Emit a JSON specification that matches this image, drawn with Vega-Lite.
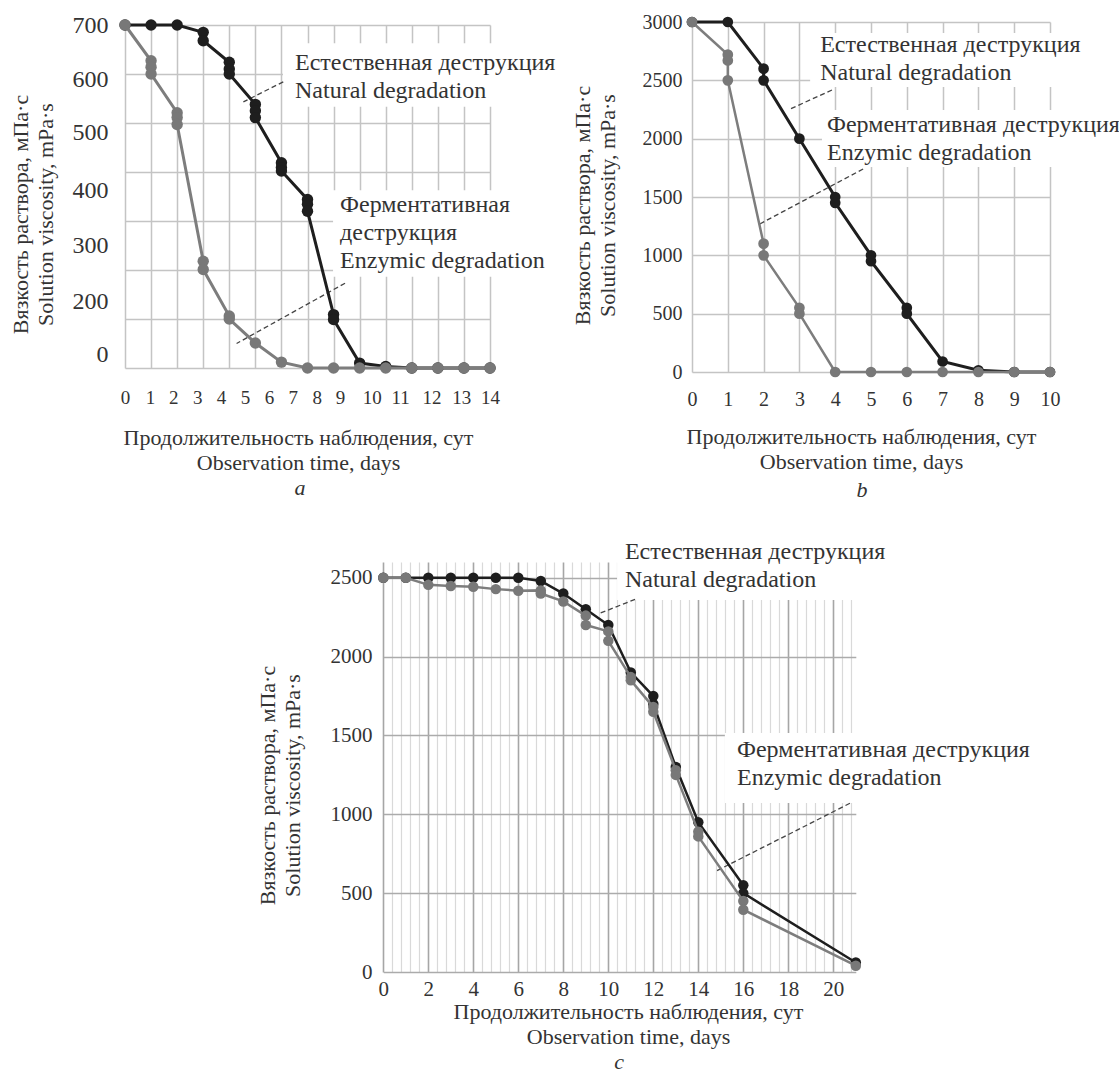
{
  "$schema": "https://vega.github.io/schema/vega-lite/v6.json",
  "width": 1119,
  "height": 1083,
  "autosize": {"type": "none"},
  "padding": 0,
  "background": "white",
  "config": {
    "font": "Liberation Serif",
    "view": {"stroke": null},
    "axis": {
      "ticks": false,
      "domain": false,
      "labelFont": "Liberation Serif",
      "titleFont": "Liberation Serif",
      "labelFontSize": 19,
      "titleFontSize": 22,
      "titleFontWeight": "normal",
      "labelColor": "#333333",
      "titleColor": "#333333",
      "gridColor": "#c4c4c4",
      "gridWidth": 1.5,
      "labelOverlap": false,
      "labelFlush": false,
      "titleLineHeight": 25,
      "format": "d"
    },
    "axisY": {"titleAngle": -90, "titleBaseline": "top", "titleAlign": "center"},
    "axisX": {"titleBaseline": "top", "titleAlign": "center"}
  },
  "datasets": {
    "a": [
      {"s": "n", "d": 0, "v": 700}, {"s": "n", "d": 1, "v": 700}, {"s": "n", "d": 2, "v": 700},
      {"s": "n", "d": 3, "v": 685}, {"s": "n", "d": 3, "v": 668},
      {"s": "n", "d": 4, "v": 624}, {"s": "n", "d": 4, "v": 610}, {"s": "n", "d": 4, "v": 600},
      {"s": "n", "d": 5, "v": 538}, {"s": "n", "d": 5, "v": 525}, {"s": "n", "d": 5, "v": 511},
      {"s": "n", "d": 6, "v": 419}, {"s": "n", "d": 6, "v": 409}, {"s": "n", "d": 6, "v": 402},
      {"s": "n", "d": 7, "v": 344}, {"s": "n", "d": 7, "v": 334}, {"s": "n", "d": 7, "v": 320},
      {"s": "n", "d": 8, "v": 109}, {"s": "n", "d": 8, "v": 99},
      {"s": "n", "d": 9, "v": 10}, {"s": "n", "d": 10, "v": 3},
      {"s": "n", "d": 11, "v": 0}, {"s": "n", "d": 12, "v": 0}, {"s": "n", "d": 13, "v": 0}, {"s": "n", "d": 14, "v": 0},
      {"s": "e", "d": 0, "v": 700},
      {"s": "e", "d": 1, "v": 627}, {"s": "e", "d": 1, "v": 614}, {"s": "e", "d": 1, "v": 600},
      {"s": "e", "d": 2, "v": 521}, {"s": "e", "d": 2, "v": 511}, {"s": "e", "d": 2, "v": 497},
      {"s": "e", "d": 3, "v": 218}, {"s": "e", "d": 3, "v": 201},
      {"s": "e", "d": 4, "v": 106}, {"s": "e", "d": 4, "v": 100},
      {"s": "e", "d": 5, "v": 51}, {"s": "e", "d": 6, "v": 12},
      {"s": "e", "d": 7, "v": 0}, {"s": "e", "d": 8, "v": 0}, {"s": "e", "d": 9, "v": 0}, {"s": "e", "d": 10, "v": 0},
      {"s": "e", "d": 11, "v": 0}, {"s": "e", "d": 12, "v": 0}, {"s": "e", "d": 13, "v": 0}, {"s": "e", "d": 14, "v": 0}
    ],
    "b": [
      {"s": "n", "d": 0, "v": 3000}, {"s": "n", "d": 1, "v": 3000},
      {"s": "n", "d": 2, "v": 2600}, {"s": "n", "d": 2, "v": 2500},
      {"s": "n", "d": 3, "v": 2000},
      {"s": "n", "d": 4, "v": 1500}, {"s": "n", "d": 4, "v": 1450},
      {"s": "n", "d": 5, "v": 1000}, {"s": "n", "d": 5, "v": 950},
      {"s": "n", "d": 6, "v": 550}, {"s": "n", "d": 6, "v": 500},
      {"s": "n", "d": 7, "v": 90}, {"s": "n", "d": 8, "v": 15}, {"s": "n", "d": 9, "v": 0}, {"s": "n", "d": 10, "v": 0},
      {"s": "e", "d": 0, "v": 3000},
      {"s": "e", "d": 1, "v": 2720}, {"s": "e", "d": 1, "v": 2670}, {"s": "e", "d": 1, "v": 2500},
      {"s": "e", "d": 2, "v": 1100}, {"s": "e", "d": 2, "v": 1000},
      {"s": "e", "d": 3, "v": 550}, {"s": "e", "d": 3, "v": 500},
      {"s": "e", "d": 4, "v": 0}, {"s": "e", "d": 5, "v": 0}, {"s": "e", "d": 6, "v": 0}, {"s": "e", "d": 7, "v": 0},
      {"s": "e", "d": 8, "v": 0}, {"s": "e", "d": 9, "v": 0}, {"s": "e", "d": 10, "v": 0}
    ],
    "c": [
      {"s": "n", "d": 0, "v": 2500}, {"s": "n", "d": 1, "v": 2500}, {"s": "n", "d": 2, "v": 2500}, {"s": "n", "d": 3, "v": 2500},
      {"s": "n", "d": 4, "v": 2500}, {"s": "n", "d": 5, "v": 2500}, {"s": "n", "d": 6, "v": 2500}, {"s": "n", "d": 7, "v": 2480},
      {"s": "n", "d": 8, "v": 2400}, {"s": "n", "d": 9, "v": 2300}, {"s": "n", "d": 10, "v": 2200}, {"s": "n", "d": 11, "v": 1900},
      {"s": "n", "d": 12, "v": 1750}, {"s": "n", "d": 12, "v": 1700}, {"s": "n", "d": 13, "v": 1300}, {"s": "n", "d": 14, "v": 950},
      {"s": "n", "d": 16, "v": 550}, {"s": "n", "d": 16, "v": 500}, {"s": "n", "d": 21, "v": 60},
      {"s": "e", "d": 0, "v": 2500}, {"s": "e", "d": 1, "v": 2500}, {"s": "e", "d": 2, "v": 2455}, {"s": "e", "d": 3, "v": 2448},
      {"s": "e", "d": 4, "v": 2443}, {"s": "e", "d": 5, "v": 2428}, {"s": "e", "d": 6, "v": 2418},
      {"s": "e", "d": 7, "v": 2420}, {"s": "e", "d": 7, "v": 2400}, {"s": "e", "d": 8, "v": 2350},
      {"s": "e", "d": 9, "v": 2260}, {"s": "e", "d": 9, "v": 2200}, {"s": "e", "d": 10, "v": 2160}, {"s": "e", "d": 10, "v": 2100},
      {"s": "e", "d": 11, "v": 1870}, {"s": "e", "d": 11, "v": 1850}, {"s": "e", "d": 12, "v": 1680}, {"s": "e", "d": 12, "v": 1650},
      {"s": "e", "d": 13, "v": 1280}, {"s": "e", "d": 13, "v": 1250}, {"s": "e", "d": 14, "v": 890}, {"s": "e", "d": 14, "v": 860},
      {"s": "e", "d": 16, "v": 450}, {"s": "e", "d": 16, "v": 395}, {"s": "e", "d": 21, "v": 40}
    ],
    "aAnn": [
      {"t": "Естественная деструкция|Natural degradation", "d": 6.52, "v": 622},
      {"t": "Ферментативная|деструкция|Enzymic degradation", "d": 8.25, "v": 333}
    ],
    "aBox": [
      {"d": 6.06, "d2": 16.6, "v": 663, "v2": 533},
      {"d": 7.98, "d2": 16.2, "v": 363, "v2": 186}
    ],
    "aLead": [
      {"d": 6.07, "v": 584, "d2": 4.54, "v2": 543},
      {"d": 8.44, "v": 173, "d2": 4.28, "v2": 50}
    ],
    "bAnn": [
      {"t": "Естественная деструкция|Natural degradation", "d": 3.58, "v": 2803},
      {"t": "Ферментативная деструкция|Enzymic degradation", "d": 3.77, "v": 2117}
    ],
    "bBox": [
      {"d": 3.30, "d2": 10.92, "v": 2906, "v2": 2443},
      {"d": 3.63, "d2": 11.93, "v": 2246, "v2": 1757}
    ],
    "bLead": [
      {"d": 3.91, "v": 2417, "d2": 2.74, "v2": 2254},
      {"d": 4.78, "v": 1740, "d2": 1.84, "v2": 1260}
    ],
    "cAnn": [
      {"t": "Естественная деструкция|Natural degradation", "d": 10.74, "v": 2663},
      {"t": "Ферментативная деструкция|Enzymic degradation", "d": 15.72, "v": 1408}
    ],
    "cBox": [
      {"d": 10.39, "d2": 22.5, "v": 2771, "v2": 2359},
      {"d": 15.18, "d2": 29.2, "v": 1516, "v2": 1072}
    ],
    "cLead": [
      {"d": 11.19, "v": 2363, "d2": 9.63, "v2": 2275},
      {"d": 20.74, "v": 1070, "d2": 14.74, "v2": 636}
    ],
    "let": [
      {"p": "a", "t": "a", "d": 6.71, "v": -245},
      {"p": "b", "t": "b", "d": 4.75, "v": -1011},
      {"p": "c", "t": "c", "d": 10.48, "v": -571}
    ]
  },
  "layer": [
    {
      "data": {"name": "aBox"},
      "mark": {"type": "rect", "fill": "white"},
      "encoding": {
        "x": {"field": "d", "type": "quantitative", "scale": {"domain": [0, 14], "range": [125, 490]},
          "axis": {"orient": "top", "grid": true, "labels": false, "title": null,
            "values": [0, 1, 2, 3, 4, 5, 6, 7, 8, 9, 10, 11, 12, 13, 14]}},
        "x2": {"field": "d2"},
        "y": {"field": "v", "type": "quantitative", "scale": {"domain": [0, 700], "range": [368, 25]},
          "axis": {
            "orient": "left", "offset": -125, "grid": true,
            "values": [0, 27, 100, 135, 200, 251, 300, 363, 400, 480, 500, 588, 600, 700],
            "gridOpacity": {"condition": {"test": "datum.value % 100 != 0", "value": 0}, "value": 1},
            "labelExpr": "datum.value == 700 ? '700' : (datum.value % 100 == 0 ? '' : ['0', '200', '300', '400', '500', '600'][indexof([27, 135, 251, 363, 480, 588], datum.value)])",
            "labelFontSize": 24,
            "labelPadding": 17,
            "title": ["Вязкость раствора, мПа·с", "Solution viscosity, mPa·s"],
            "titleX": -114.5, "titleY": 214
          }},
        "y2": {"field": "v2"}
      }
    },
    {
      "data": {"name": "aLead"},
      "mark": {"type": "rule", "color": "#444444", "strokeWidth": 1.3, "strokeDash": [5, 3]},
      "encoding": {
        "x": {"field": "d", "type": "quantitative", "scale": {"domain": [0, 14], "range": [125, 490]}, "axis": null},
        "x2": {"field": "d2"},
        "y": {"field": "v", "type": "quantitative", "scale": {"domain": [0, 700], "range": [368, 25]}, "axis": null},
        "y2": {"field": "v2"}
      }
    },
    {
      "data": {"name": "a"},
      "transform": [{"filter": "datum.s == 'n'"}],
      "mark": {"type": "line", "color": "#1e1e1e", "strokeWidth": 3},
      "encoding": {
        "x": {"field": "d", "type": "quantitative", "scale": {"domain": [0, 14], "range": [125, 490]},
          "axis": {
            "orient": "bottom", "offset": -715, "grid": false,
            "values": [0, 0.96, 1.85, 2.77, 3.68, 4.6, 5.52, 6.43, 7.35, 8.25, 9.46, 10.55, 11.76, 12.9, 14],
            "labelExpr": "'' + indexof([0, 0.96, 1.85, 2.77, 3.68, 4.6, 5.52, 6.43, 7.35, 8.25, 9.46, 10.55, 11.76, 12.9, 14], datum.value)",
            "labelPadding": 20,
            "title": ["Продолжительность наблюдения, сут", "Observation time, days"],
            "titleX": 298, "titleY": 59.5
          }},
        "y": {"field": "v", "type": "quantitative", "scale": {"domain": [0, 700], "range": [368, 25]}, "axis": null},
        "order": {"value": null}
      }
    },
    {
      "data": {"name": "a"},
      "transform": [{"filter": "datum.s == 'n'"}],
      "mark": {"type": "circle", "color": "#1e1e1e", "size": 130, "opacity": 1},
      "encoding": {
        "x": {"field": "d", "type": "quantitative", "scale": {"domain": [0, 14], "range": [125, 490]}, "axis": null},
        "y": {"field": "v", "type": "quantitative", "scale": {"domain": [0, 700], "range": [368, 25]}, "axis": null}
      }
    },
    {
      "data": {"name": "a"},
      "transform": [{"filter": "datum.s == 'e'"}],
      "mark": {"type": "line", "color": "#7d7d7d", "strokeWidth": 3},
      "encoding": {
        "x": {"field": "d", "type": "quantitative", "scale": {"domain": [0, 14], "range": [125, 490]}, "axis": null},
        "y": {"field": "v", "type": "quantitative", "scale": {"domain": [0, 700], "range": [368, 25]}, "axis": null},
        "order": {"value": null}
      }
    },
    {
      "data": {"name": "a"},
      "transform": [{"filter": "datum.s == 'e'"}],
      "mark": {"type": "circle", "color": "#787878", "size": 130, "opacity": 1},
      "encoding": {
        "x": {"field": "d", "type": "quantitative", "scale": {"domain": [0, 14], "range": [125, 490]}, "axis": null},
        "y": {"field": "v", "type": "quantitative", "scale": {"domain": [0, 700], "range": [368, 25]}, "axis": null}
      }
    },
    {
      "data": {"name": "aAnn"},
      "mark": {"type": "text", "align": "left", "baseline": "middle", "lineBreak": "|", "fontSize": 24, "lineHeight": 28, "color": "#333333", "font": "Liberation Serif"},
      "encoding": {
        "x": {"field": "d", "type": "quantitative", "scale": {"domain": [0, 14], "range": [125, 490]}, "axis": null},
        "y": {"field": "v", "type": "quantitative", "scale": {"domain": [0, 700], "range": [368, 25]}, "axis": null},
        "text": {"field": "t", "type": "nominal"}
      }
    },
    {
      "data": {"name": "let"},
      "transform": [{"filter": "datum.p == 'a'"}],
      "mark": {"type": "text", "align": "center", "baseline": "middle", "fontSize": 22, "fontStyle": "italic", "color": "#333333", "font": "Liberation Serif"},
      "encoding": {
        "x": {"field": "d", "type": "quantitative", "scale": {"domain": [0, 14], "range": [125, 490]}, "axis": null},
        "y": {"field": "v", "type": "quantitative", "scale": {"domain": [0, 700], "range": [368, 25]}, "axis": null},
        "text": {"field": "t", "type": "nominal"}
      }
    },

    {
      "data": {"name": "bBox"},
      "mark": {"type": "rect", "fill": "white"},
      "encoding": {
        "x": {"field": "d", "type": "quantitative", "scale": {"domain": [0, 10], "range": [692, 1050]},
          "axis": {"orient": "top", "grid": true, "labels": false, "title": null,
            "values": [0, 1, 2, 3, 4, 5, 6, 7, 8, 9, 10]}},
        "x2": {"field": "d2"},
        "y": {"field": "v", "type": "quantitative", "scale": {"domain": [0, 3000], "range": [372, 22]},
          "axis": {
            "orient": "left", "offset": -692, "grid": true,
            "values": [0, 500, 1000, 1500, 2000, 2500, 3000],
            "labelFontSize": 20,
            "labelPadding": 10,
            "title": ["Вязкость раствора, мПа·с", "Solution viscosity, mPa·s"],
            "titleX": -119.5, "titleY": 205
          }},
        "y2": {"field": "v2"}
      }
    },
    {
      "data": {"name": "bLead"},
      "mark": {"type": "rule", "color": "#444444", "strokeWidth": 1.3, "strokeDash": [5, 3]},
      "encoding": {
        "x": {"field": "d", "type": "quantitative", "scale": {"domain": [0, 10], "range": [692, 1050]}, "axis": null},
        "x2": {"field": "d2"},
        "y": {"field": "v", "type": "quantitative", "scale": {"domain": [0, 3000], "range": [372, 22]}, "axis": null},
        "y2": {"field": "v2"}
      }
    },
    {
      "data": {"name": "b"},
      "transform": [{"filter": "datum.s == 'n'"}],
      "mark": {"type": "line", "color": "#1e1e1e", "strokeWidth": 3},
      "encoding": {
        "x": {"field": "d", "type": "quantitative", "scale": {"domain": [0, 10], "range": [692, 1050]},
          "axis": {
            "orient": "bottom", "offset": -711, "grid": false,
            "values": [0, 1, 2, 3, 4, 5, 6, 7, 8, 9, 10],
            "labelFontSize": 20,
            "labelPadding": 17,
            "title": ["Продолжительность наблюдения, сут", "Observation time, days"],
            "titleX": 861, "titleY": 54.5
          }},
        "y": {"field": "v", "type": "quantitative", "scale": {"domain": [0, 3000], "range": [372, 22]}, "axis": null},
        "order": {"value": null}
      }
    },
    {
      "data": {"name": "b"},
      "transform": [{"filter": "datum.s == 'n'"}],
      "mark": {"type": "circle", "color": "#1e1e1e", "size": 115, "opacity": 1},
      "encoding": {
        "x": {"field": "d", "type": "quantitative", "scale": {"domain": [0, 10], "range": [692, 1050]}, "axis": null},
        "y": {"field": "v", "type": "quantitative", "scale": {"domain": [0, 3000], "range": [372, 22]}, "axis": null}
      }
    },
    {
      "data": {"name": "b"},
      "transform": [{"filter": "datum.s == 'e'"}],
      "mark": {"type": "line", "color": "#7d7d7d", "strokeWidth": 2.5},
      "encoding": {
        "x": {"field": "d", "type": "quantitative", "scale": {"domain": [0, 10], "range": [692, 1050]}, "axis": null},
        "y": {"field": "v", "type": "quantitative", "scale": {"domain": [0, 3000], "range": [372, 22]}, "axis": null},
        "order": {"value": null}
      }
    },
    {
      "data": {"name": "b"},
      "transform": [{"filter": "datum.s == 'e'"}],
      "mark": {"type": "circle", "color": "#787878", "size": 115, "opacity": 1},
      "encoding": {
        "x": {"field": "d", "type": "quantitative", "scale": {"domain": [0, 10], "range": [692, 1050]}, "axis": null},
        "y": {"field": "v", "type": "quantitative", "scale": {"domain": [0, 3000], "range": [372, 22]}, "axis": null}
      }
    },
    {
      "data": {"name": "bAnn"},
      "mark": {"type": "text", "align": "left", "baseline": "middle", "lineBreak": "|", "fontSize": 24, "lineHeight": 28, "color": "#333333", "font": "Liberation Serif"},
      "encoding": {
        "x": {"field": "d", "type": "quantitative", "scale": {"domain": [0, 10], "range": [692, 1050]}, "axis": null},
        "y": {"field": "v", "type": "quantitative", "scale": {"domain": [0, 3000], "range": [372, 22]}, "axis": null},
        "text": {"field": "t", "type": "nominal"}
      }
    },
    {
      "data": {"name": "let"},
      "transform": [{"filter": "datum.p == 'b'"}],
      "mark": {"type": "text", "align": "center", "baseline": "middle", "fontSize": 22, "fontStyle": "italic", "color": "#333333", "font": "Liberation Serif"},
      "encoding": {
        "x": {"field": "d", "type": "quantitative", "scale": {"domain": [0, 10], "range": [692, 1050]}, "axis": null},
        "y": {"field": "v", "type": "quantitative", "scale": {"domain": [0, 3000], "range": [372, 22]}, "axis": null},
        "text": {"field": "t", "type": "nominal"}
      }
    },

    {
      "data": {"name": "cBox"},
      "mark": {"type": "rect", "fill": "white"},
      "encoding": {
        "x": {"field": "d", "type": "quantitative", "scale": {"domain": [0, 21], "range": [383.3, 855.8]},
          "axis": {"orient": "top", "grid": true, "labels": false, "title": null,
            "values": [0, 0.4, 0.8, 1.2, 1.6, 2, 2.4, 2.8, 3.2, 3.6, 4, 4.4, 4.8, 5.2, 5.6, 6, 6.4, 6.8, 7.2, 7.6, 8, 8.4, 8.8, 9.2, 9.6, 10, 10.4, 10.8, 11.2, 11.6, 12, 12.4, 12.8, 13.2, 13.6, 14, 14.4, 14.8, 15.2, 15.6, 16, 16.4, 16.8, 17.2, 17.6, 18, 18.4, 18.8, 19.2, 19.6, 20, 20.4, 20.8],
            "gridColor": {"condition": {"test": "datum.value % 2 == 0", "value": "#a6a6a6"}, "value": "#d9d9d9"},
            "gridWidth": {"condition": {"test": "datum.value % 2 == 0", "value": 1.6}, "value": 1.2}}},
        "x2": {"field": "d2"},
        "y": {"field": "v", "type": "quantitative", "scale": {"domain": [0, 2600], "range": [972, 562]},
          "axis": {
            "orient": "left", "offset": -383, "grid": true,
            "values": [0, 500, 1000, 1500, 2000, 2500],
            "gridColor": "#ababab",
            "labelFontSize": 21,
            "labelPadding": 11,
            "title": ["Вязкость раствора, мПа·с", "Solution viscosity, mPa·s"],
            "titleX": -125.5, "titleY": 785
          }},
        "y2": {"field": "v2"}
      }
    },
    {
      "data": {"name": "cLead"},
      "mark": {"type": "rule", "color": "#444444", "strokeWidth": 1.3, "strokeDash": [5, 3]},
      "encoding": {
        "x": {"field": "d", "type": "quantitative", "scale": {"domain": [0, 21], "range": [383.3, 855.8]}, "axis": null},
        "x2": {"field": "d2"},
        "y": {"field": "v", "type": "quantitative", "scale": {"domain": [0, 2600], "range": [972, 562]}, "axis": null},
        "y2": {"field": "v2"}
      }
    },
    {
      "data": {"name": "c"},
      "transform": [{"filter": "datum.s == 'n'"}],
      "mark": {"type": "line", "color": "#1e1e1e", "strokeWidth": 2.5},
      "encoding": {
        "x": {"field": "d", "type": "quantitative", "scale": {"domain": [0, 21], "range": [383.3, 855.8]},
          "axis": {
            "orient": "bottom", "offset": -111, "grid": false,
            "values": [0, 2, 4, 6, 8, 10, 12, 14, 16, 18, 20],
            "labelFontSize": 21,
            "labelPadding": 6,
            "title": ["Продолжительность наблюдения, сут", "Observation time, days"],
            "titleX": 628, "titleY": 29.5
          }},
        "y": {"field": "v", "type": "quantitative", "scale": {"domain": [0, 2600], "range": [972, 562]}, "axis": null},
        "order": {"value": null}
      }
    },
    {
      "data": {"name": "c"},
      "transform": [{"filter": "datum.s == 'n'"}],
      "mark": {"type": "circle", "color": "#1e1e1e", "size": 110, "opacity": 1},
      "encoding": {
        "x": {"field": "d", "type": "quantitative", "scale": {"domain": [0, 21], "range": [383.3, 855.8]}, "axis": null},
        "y": {"field": "v", "type": "quantitative", "scale": {"domain": [0, 2600], "range": [972, 562]}, "axis": null}
      }
    },
    {
      "data": {"name": "c"},
      "transform": [{"filter": "datum.s == 'e'"}],
      "mark": {"type": "line", "color": "#7d7d7d", "strokeWidth": 2.5},
      "encoding": {
        "x": {"field": "d", "type": "quantitative", "scale": {"domain": [0, 21], "range": [383.3, 855.8]}, "axis": null},
        "y": {"field": "v", "type": "quantitative", "scale": {"domain": [0, 2600], "range": [972, 562]}, "axis": null},
        "order": {"value": null}
      }
    },
    {
      "data": {"name": "c"},
      "transform": [{"filter": "datum.s == 'e'"}],
      "mark": {"type": "circle", "color": "#787878", "size": 110, "opacity": 1},
      "encoding": {
        "x": {"field": "d", "type": "quantitative", "scale": {"domain": [0, 21], "range": [383.3, 855.8]}, "axis": null},
        "y": {"field": "v", "type": "quantitative", "scale": {"domain": [0, 2600], "range": [972, 562]}, "axis": null}
      }
    },
    {
      "data": {"name": "cAnn"},
      "mark": {"type": "text", "align": "left", "baseline": "middle", "lineBreak": "|", "fontSize": 24, "lineHeight": 28, "color": "#333333", "font": "Liberation Serif"},
      "encoding": {
        "x": {"field": "d", "type": "quantitative", "scale": {"domain": [0, 21], "range": [383.3, 855.8]}, "axis": null},
        "y": {"field": "v", "type": "quantitative", "scale": {"domain": [0, 2600], "range": [972, 562]}, "axis": null},
        "text": {"field": "t", "type": "nominal"}
      }
    },
    {
      "data": {"name": "let"},
      "transform": [{"filter": "datum.p == 'c'"}],
      "mark": {"type": "text", "align": "center", "baseline": "middle", "fontSize": 22, "fontStyle": "italic", "color": "#333333", "font": "Liberation Serif"},
      "encoding": {
        "x": {"field": "d", "type": "quantitative", "scale": {"domain": [0, 21], "range": [383.3, 855.8]}, "axis": null},
        "y": {"field": "v", "type": "quantitative", "scale": {"domain": [0, 2600], "range": [972, 562]}, "axis": null},
        "text": {"field": "t", "type": "nominal"}
      }
    }
  ],
  "resolve": {"scale": {"x": "independent", "y": "independent"}, "axis": {"x": "independent", "y": "independent"}}
}
